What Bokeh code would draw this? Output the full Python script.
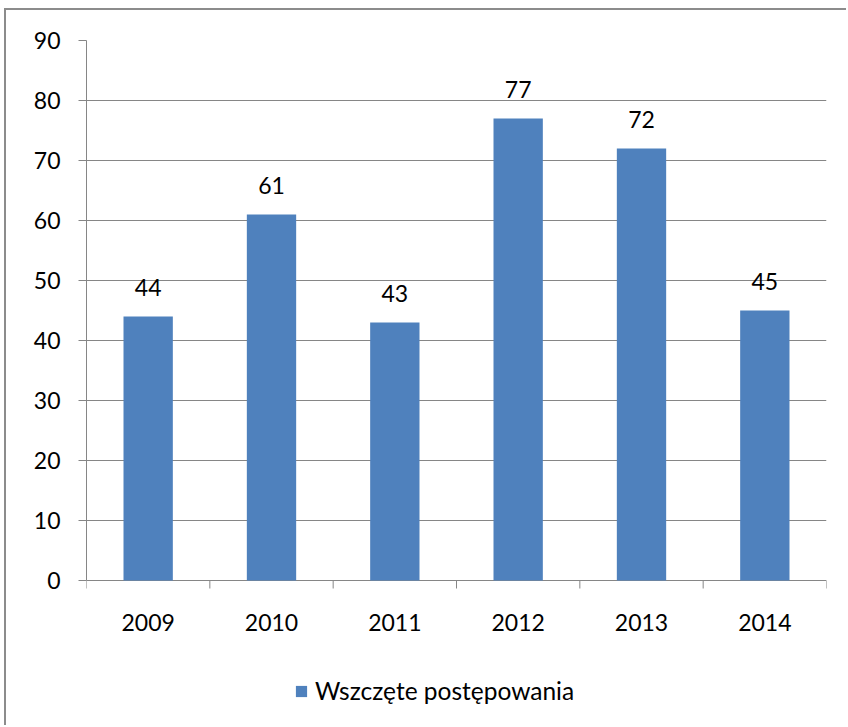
import math
from bokeh.plotting import figure
from bokeh.models import (ColumnDataSource, Range1d, FactorRange, LinearAxis,
                          FixedTicker, Legend, LegendItem)
from bokeh.core.properties import value
from bokeh.embed import file_html
from bokeh.resources import INLINE

years = ["2009", "2010", "2011", "2012", "2013", "2014"]
counts = [44, 61, 43, 77, 72, 45]
y_ticks = [0, 10, 20, 30, 40, 50, 60, 70, 80, 90]
series_name = "Wszczęte postępowania"

FONT = "Lato"
FS = "23px"
GRAY = "#868686"
BLUE = "#4F81BD"

# layout (pixels)
W, H = 842, 717
LEFT, RIGHT, TOP = 80, 22, 30
PLOT_H = 540                      # height of the 0..90 value area
Y_MAX = 90
px_per_unit = PLOT_H / Y_MAX
y_start = Y_MAX - (H - TOP) / px_per_unit   # frame extends below 0 to hold labels + legend

p = figure(width=W, height=H, output_backend="svg", toolbar_location=None,
           x_range=FactorRange(*years, range_padding=0), y_range=Range1d(y_start, Y_MAX),
           x_axis_location=None, y_axis_location=None,
           min_border_left=LEFT, min_border_right=RIGHT, min_border_top=TOP, min_border_bottom=0)
# chart area frame (left/top edges visible in the window)
p.styles = {"margin-left": "4px", "margin-top": "8px",
            "border-left": "2px solid #8c8c8c", "border-top": "2px solid #8c8c8c"}
p.outline_line_color = None
p.background_fill_color = "white"
p.border_fill_color = "white"

# y axis (only over 0..90)
yax = LinearAxis(ticker=FixedTicker(ticks=y_ticks), bounds=(0, Y_MAX))
yax.axis_line_color = GRAY
yax.major_tick_line_color = GRAY
yax.major_tick_out = 8
yax.major_tick_in = 0
yax.minor_tick_line_color = None
yax.major_label_text_font = FONT
yax.major_label_text_font_size = FS
yax.major_label_text_color = "black"
yax.major_label_standoff = 18
p.add_layout(yax, "left")

p.xgrid.visible = False
p.ygrid.ticker = FixedTicker(ticks=y_ticks)
p.ygrid.grid_line_color = GRAY
p.ygrid.grid_line_width = 1

# category-axis boundary ticks (synthetic coordinates 0..n of the factor range)
bounds = list(range(len(years) + 1))
p.ray(x=bounds, y=[0] * len(bounds), length=8, length_units="screen",
      angle=-math.pi / 2, line_color=GRAY, line_width=1)

# category labels
p.text(x=years, y=[0] * len(years), text=years, text_align="center", text_baseline="middle",
       y_offset=42, text_font=value(FONT), text_font_size=FS, text_color="black")

src = ColumnDataSource(dict(x=years, top=counts, lab=[str(v) for v in counts]))
bars = p.vbar(x="x", top="top", width=0.4, source=src, fill_color=BLUE, line_color=None)
p.text(x="x", y="top", text="lab", source=src, text_align="center", text_baseline="middle",
       y_offset=-29, text_font=value(FONT), text_font_size=FS, text_color="black")

legend = Legend(items=[LegendItem(label=series_name, renderers=[bars])],
                location=(208, 22), orientation="horizontal")
legend.padding = 0
legend.margin = 0
legend.border_line_color = None
legend.background_fill_alpha = 0
legend.glyph_width = 14
legend.glyph_height = 14
legend.label_standoff = 7
legend.label_text_font = FONT
legend.label_text_font_size = "24.5px"
legend.label_text_color = "black"
p.add_layout(legend, "center")

open("out.html", "w").write(file_html(p, INLINE))
